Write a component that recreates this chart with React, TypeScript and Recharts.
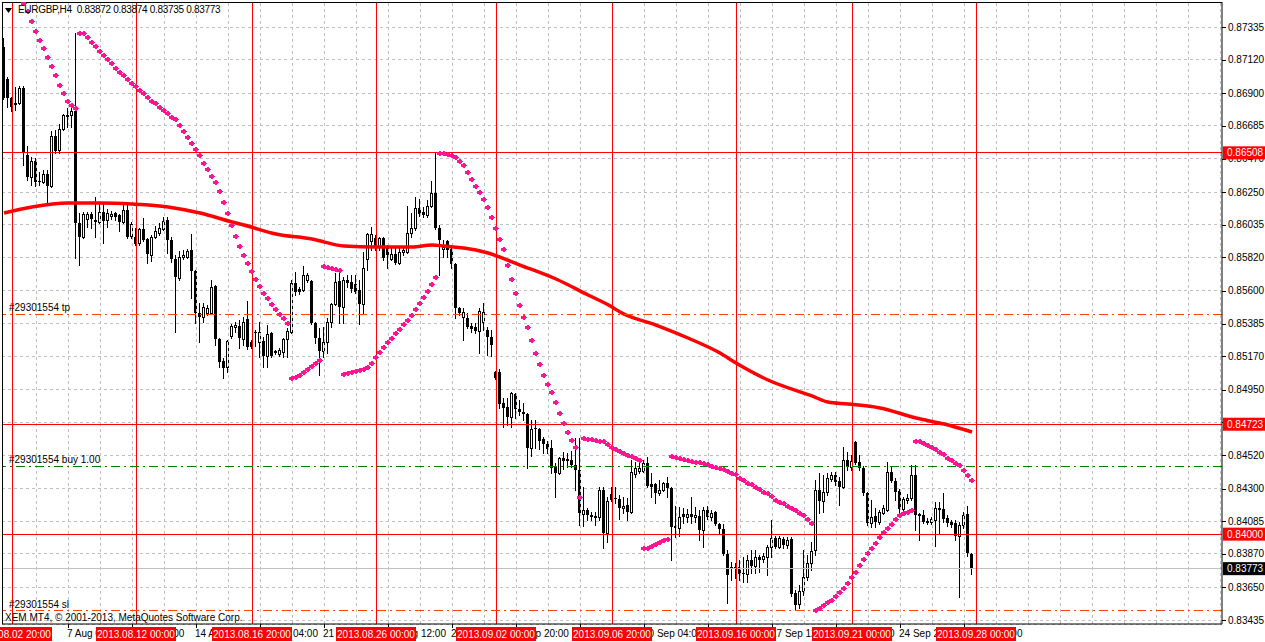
import { ComposedChart, Bar, Line, XAxis, YAxis, CartesianGrid, ReferenceLine } from 'recharts';

// EURGBP H4 candles, prices in points (1 point = 0.00001)
const opens = [
  87204, 86993, 86868, 86829, 86836, 86934, 86494, 86349, 86454, 86323, 86316, 86369, 86290, 86619, 86526, 86665,
  86757, 86757, 86783, 86046, 85954, 86073, 86106, 86066, 86053, 86119, 86066, 86092, 86112, 86099, 86053, 86132,
  85961, 85954, 85915, 86007, 85941, 85836, 85954, 85981, 86007, 86066, 85934, 85810, 85685, 85823, 85823, 85869,
  85731, 85454, 85428, 85454, 85454, 85632, 85283, 85139, 85099, 85303, 85362, 85369, 85283, 85415, 85264, 85329,
  85264, 85270, 85172, 85323, 85205, 85185, 85198, 85283, 85329, 85652, 85612, 85606, 85671, 85665, 85389, 85290,
  85205, 85264, 85395, 85514, 85665, 85494, 85671, 85658, 85645, 85606, 85514, 85810, 85928, 85948, 85895, 85948,
  85889, 85810, 85842, 85783, 85856, 85856, 85981, 86013, 86145, 86119, 86099, 86158, 86244, 86013, 85875, 85928,
  85875, 85777, 85487, 85428, 85421, 85369, 85362, 85336, 85395, 85343, 85297, 85066, 85066, 84862, 84836, 84770,
  84922, 84823, 84803, 84790, 84566, 84698, 84691, 84626, 84593, 84566, 84448, 84402, 84501, 84494, 84488, 84455,
  84422, 84132, 84159, 84126, 84119, 84113, 84290, 84007, 84264, 84238, 84231, 84172, 84192, 84146, 84395, 84415,
  84415, 84468, 84330, 84330, 84271, 84290, 84336, 84303, 84053, 84040, 84132, 84113, 84132, 84113, 84119, 84027,
  84159, 84113, 84146, 84067, 84034, 83869, 83784, 83784, 83784, 83744, 83738, 83830, 83790, 83850, 83836, 83850,
  83915, 83975, 83915, 83968, 83928, 83968, 83613, 83541, 83626, 83718, 83810, 83896, 84290, 84218, 84277, 84363,
  84389, 84349, 84310, 84488, 84441, 84606, 84474, 84435, 84271, 84073, 84119, 84080, 84139, 84159, 84409, 84349,
  84284, 84165, 84224, 84238, 84389, 84132, 84126, 84086, 84080, 84093, 84172, 84165, 84106, 84080, 84073, 83988,
  84060, 84132, 83872,
];
const highs = [
  87263, 87007, 86875, 86941, 86947, 86947, 86553, 86480, 86474, 86382, 86395, 86395, 86651, 86658, 86697, 86763,
  86803, 86809, 87296, 86112, 86119, 86119, 86119, 86217, 86184, 86184, 86138, 86125, 86119, 86106, 86165, 86165,
  86053, 86013, 86013, 86079, 85948, 85967, 86027, 86046, 86086, 86086, 85954, 85836, 85862, 85869, 85875, 85974,
  85737, 85520, 85520, 85507, 85671, 85639, 85290, 85158, 85277, 85382, 85395, 85408, 85428, 85533, 85277, 85343,
  85395, 85297, 85375, 85329, 85211, 85224, 85290, 85356, 85671, 85724, 85625, 85763, 85717, 85671, 85395, 85356,
  85362, 85421, 85520, 85717, 85724, 85691, 85704, 85704, 85704, 85671, 85856, 85981, 86020, 85967, 85954, 85954,
  85902, 85895, 85889, 85889, 85889, 86158, 86112, 86217, 86204, 86152, 86198, 86323, 86507, 86033, 85934, 85934,
  85889, 85783, 85494, 85487, 85454, 85389, 85389, 85487, 85520, 85362, 85343, 85073, 85086, 84895, 84895, 84935,
  84928, 84882, 84862, 84797, 84751, 84751, 84698, 84639, 84612, 84619, 84468, 84507, 84540, 84534, 84547, 84632,
  84632, 84310, 84172, 84146, 84146, 84310, 84310, 84244, 84310, 84310, 84257, 84244, 84238, 84488, 84474, 84488,
  84488, 84507, 84402, 84336, 84356, 84343, 84376, 84310, 84185, 84178, 84172, 84165, 84244, 84178, 84159, 84178,
  84185, 84159, 84152, 84073, 84067, 83896, 83817, 83810, 83830, 83850, 83863, 83896, 83896, 83863, 83876, 83928,
  84093, 83988, 83988, 83981, 83981, 83981, 83633, 83665, 83896, 83863, 83948, 84356, 84402, 84389, 84402, 84409,
  84409, 84376, 84573, 84540, 84520, 84612, 84520, 84448, 84277, 84224, 84172, 84159, 84192, 84474, 84441, 84369,
  84297, 84244, 84264, 84455, 84455, 84139, 84159, 84106, 84113, 84211, 84211, 84271, 84126, 84093, 84093, 84080,
  84146, 84185, 83874,
];
const lows = [
  86862, 86809, 86783, 86790, 86829, 86428, 86329, 86296, 86290, 86296, 86309, 86165, 86283, 86507, 86507, 86658,
  86678, 86678, 85816, 85770, 85948, 86020, 86013, 85954, 86046, 85915, 86020, 86073, 86066, 85994, 86046, 85948,
  85948, 85902, 85902, 85928, 85783, 85796, 85948, 85967, 86000, 85849, 85790, 85329, 85671, 85810, 85816, 85553,
  85389, 85264, 85395, 85441, 85448, 85244, 85099, 85027, 85066, 85290, 85329, 85224, 85244, 85218, 85224, 85237,
  85165, 85099, 85099, 85165, 85185, 85172, 85165, 85165, 85323, 85573, 85579, 85599, 85658, 85382, 85257, 85047,
  85165, 85191, 85362, 85507, 85389, 85389, 85625, 85592, 85586, 85382, 85454, 85737, 85869, 85869, 85869, 85803,
  85750, 85803, 85777, 85777, 85836, 85849, 85954, 86000, 86092, 86086, 86086, 86152, 86007, 85704, 85823, 85823,
  85750, 85421, 85441, 85277, 85356, 85329, 85323, 85191, 85343, 85178, 85172, 85020, 84830, 84705, 84718, 84705,
  84764, 84783, 84751, 84435, 84514, 84566, 84560, 84534, 84534, 84402, 84244, 84395, 84428, 84441, 84441, 84290,
  84060, 84053, 84093, 84093, 84060, 84093, 83909, 83948, 84218, 84205, 84100, 84139, 84093, 84139, 84376, 84402,
  84409, 84310, 84244, 84205, 84257, 84284, 84244, 83830, 83981, 83988, 84073, 84080, 84073, 84080, 83961, 83915,
  84100, 84093, 84060, 84007, 83863, 83547, 83698, 83711, 83698, 83685, 83685, 83744, 83744, 83751, 83817, 83731,
  83850, 83909, 83909, 83909, 83909, 83593, 83501, 83514, 83600, 83698, 83764, 83863, 84139, 84146, 84257, 84349,
  84323, 84192, 84303, 84422, 84422, 84461, 84422, 84257, 84060, 84047, 84047, 84067, 84132, 84152, 84343, 84224,
  84126, 84146, 84205, 84224, 84027, 83961, 84073, 84067, 84067, 83922, 84007, 84080, 84053, 84047, 83961, 83587,
  84040, 83856, 83735,
];
const closes = [
  86868, 86868, 86809, 86836, 86934, 86507, 86349, 86454, 86316, 86316, 86369, 86290, 86619, 86520, 86665, 86757,
  86743, 86783, 86046, 85954, 86106, 86106, 86073, 86053, 86119, 86060, 86112, 86106, 86086, 86053, 86132, 85954,
  86040, 85908, 86007, 85934, 85842, 85954, 85994, 86013, 86060, 85934, 85810, 85691, 85823, 85836, 85862, 85731,
  85454, 85428, 85494, 85487, 85625, 85283, 85132, 85093, 85270, 85369, 85375, 85290, 85395, 85231, 85231, 85323,
  85329, 85172, 85316, 85172, 85191, 85211, 85283, 85336, 85652, 85592, 85592, 85704, 85704, 85389, 85290, 85205,
  85264, 85395, 85514, 85658, 85494, 85671, 85652, 85612, 85592, 85514, 85750, 85974, 85974, 85895, 85948, 85816,
  85836, 85842, 85783, 85856, 85869, 85981, 86013, 86145, 86106, 86099, 86158, 86244, 86013, 85934, 85889, 85869,
  85777, 85487, 85454, 85461, 85362, 85349, 85336, 85468, 85461, 85297, 85244, 85027, 84856, 84830, 84770, 84928,
  84823, 84803, 84790, 84566, 84691, 84691, 84612, 84593, 84560, 84435, 84402, 84501, 84481, 84481, 84455, 84422,
  84139, 84159, 84126, 84113, 84106, 84290, 84007, 84218, 84224, 84231, 84172, 84185, 84146, 84409, 84435, 84435,
  84468, 84317, 84310, 84271, 84290, 84336, 84303, 84047, 84040, 84113, 84113, 84132, 84113, 84126, 84027, 84159,
  84113, 84139, 84067, 84034, 83869, 83731, 83777, 83771, 83738, 83738, 83830, 83790, 83850, 83830, 83856, 83915,
  83975, 83915, 83975, 83928, 83961, 83606, 83534, 83626, 83718, 83810, 83889, 84290, 84218, 84277, 84369, 84389,
  84343, 84310, 84488, 84441, 84481, 84468, 84435, 84271, 84073, 84113, 84080, 84146, 84172, 84409, 84349, 84277,
  84165, 84231, 84238, 84389, 84126, 84119, 84080, 84073, 84100, 84172, 84159, 84100, 84073, 84060, 83988, 84060,
  84126, 83875, 83773,
];

// Parabolic SAR dots, points (null = above the visible area)
const sarPoints = [
  null, null, null, null, null, 87493, 87441, 87378, 87312, 87253, 87197, 87141, 87079, 87020, 86957, 86901,
  86849, 86822, 86803, 87294, 87294, 87268, 87235, 87210, 87178, 87151, 87125, 87097, 87068, 87041, 87018, 86991,
  86965, 86947, 86921, 86899, 86873, 86851, 86834, 86811, 86790, 86768, 86745, 86728, 86689, 86653, 86610, 86571,
  86531, 86494, 86443, 86400, 86355, 86314, 86257, 86186, 86110, 86033, 85963, 85897, 85836, 85781, 85731, 85676,
  85632, 85588, 85551, 85512, 85479, 85448, 85419, 85391, 85025, 85031, 85047, 85064, 85084, 85106, 85127, 85145,
  85763, 85755, 85750, 85744, 85737, 85051, 85058, 85064, 85073, 85079, 85084, 85101, 85127, 85163, 85200, 85233,
  85262, 85292, 85321, 85351, 85382, 85408, 85441, 85479, 85518, 85562, 85601, 85643, 85689, 86505, 86505, 86500,
  86494, 86482, 86456, 86428, 86380, 86334, 86292, 86252, 86202, 86150, 86088, 86013, 85941, 85873, 85768, 85676,
  85584, 85505, 85430, 85364, 85277, 85189, 85117, 85045, 84985, 84933, 84872, 84795, 84729, 84670, 84616, 84576,
  84242, 84630, 84629, 84624, 84619, 84613, 84611, 84590, 84573, 84562, 84547, 84534, 84522, 84512, 84501, 84490,
  83907, 83907, 83922, 83935, 83950, 83961, 83968, 84514, 84509, 84503, 84494, 84488, 84483, 84476, 84473, 84466,
  84459, 84450, 84443, 84437, 84426, 84418, 84404, 84393, 84367, 84356, 84338, 84328, 84312, 84295, 84279, 84269,
  84251, 84224, 84213, 84203, 84185, 84174, 84159, 84141, 84126, 84098, 84071, 83501, 83512, 83534, 83556, 83570,
  83593, 83619, 83649, 83677, 83715, 83749, 83795, 83835, 83874, 83909, 83945, 83979, 84012, 84038, 84068, 84098,
  84124, 84142, 84148, 84157, 84613, 84613, 84597, 84586, 84575, 84560, 84540, 84524, 84504, 84488, 84471, 84455,
  84422, 84389, 84356,
];

// moving average, read at these bars (points)
const maBars = [0, 7, 16, 24, 32, 41, 49, 57, 60, 68, 77, 85, 93, 102, 107, 110, 118, 121, 129, 138, 146, 152, 154, 163, 171, 179, 183, 191, 202, 206, 211, 219, 228, 235, 242];
const maPoints = [86112, 86152, 86178, 86178, 86171, 86152, 86112, 86053, 86033, 85974, 85941, 85895, 85889, 85889, 85902, 85895, 85869, 85849, 85770, 85678, 85573, 85494, 85461, 85375, 85290, 85191, 85126, 85014, 84909, 84869, 84856, 84830, 84764, 84724, 84672];

const slotCount = 305; // bars plus the empty shift on the right

const timeTickBars = [16, 32, 48, 64, 80, 96, 112, 128, 144, 160, 176, 192, 208, 224, 240];
const timeTickLabels = ['7 Aug 04:00', '9 Aug 20:00', '14 Aug 12:00', '19 Aug 04:00', '21 Aug 20:00', '26 Aug 12:00', '29 Aug 04:00', '2 Sep 20:00', '5 Sep 12:00', '10 Sep 04:00', '12 Sep 20:00', '17 Sep 12:00', '20 Sep 04:00', '24 Sep 20:00', '27 Sep 12:00'];
const vLineBars = [2, 33, 62, 93, 123, 152, 183, 212, 243];
const vLineLabels = ['2013.08.02 20:00', '2013.08.12 00:00', '2013.08.16 20:00', '2013.08.26 00:00', '2013.09.02 00:00', '2013.09.06 20:00', '2013.09.16 00:00', '2013.09.21 00:00', '2013.09.28 00:00'];
const gridBars = Array.from({ length: 38 }, (_, k) => (k + 1) * 8);

const priceTicks = [0.87335, 0.8712, 0.869, 0.86685, 0.8647, 0.8625, 0.86035, 0.8582, 0.856, 0.85385, 0.8517, 0.8495, 0.84735, 0.8452, 0.843, 0.84085, 0.8387, 0.8365, 0.83435];
const levelPrices = [0.86508, 0.84723, 0.84];
const bidPrice = 0.83773;
const orderNames = ['#29301554 tp', '#29301554 buy 1.00', '#29301554 sl'];
const orderPrices = [0.85446, 0.84448, 0.83495];

const FONT = '"Liberation Sans", Arial, sans-serif';
const ORDER_COLORS = ['#ff4500', '#008000', '#ff4500'];

const rows = Array.from({ length: slotCount }, (_, i) => {
  const row: any = { i };
  if (i < opens.length) {
    row.o = opens[i] / 1e5;
    row.h = highs[i] / 1e5;
    row.l = lows[i] / 1e5;
    row.c = closes[i] / 1e5;
    row.range = [row.l, row.h];
  }
  if (i < sarPoints.length && sarPoints[i] != null) row.sar = (sarPoints[i] as number) / 1e5;
  return row;
});
maBars.forEach((b, k) => {
  rows[b].ma = maPoints[k] / 1e5;
});

function Candle(props: any) {
  const { x, y, width, height, payload } = props;
  if (!payload || payload.o == null || y == null || height == null) return null;
  const { o, h, l, c } = payload;
  const cx = Math.floor(x + width / 2);
  const k = h > l ? height / (h - l) : 0;
  const py = (v: number) => y + (h - v) * k;
  const top = Math.round(py(Math.max(o, c)));
  const bot = Math.round(py(Math.min(o, c)));
  const up = c > o;
  return (
    <g shapeRendering="crispEdges">
      <line x1={cx + 0.5} x2={cx + 0.5} y1={Math.round(y)} y2={Math.round(y + height) + 1} stroke="#000" />
      {up ? (
        <rect x={cx - 0.5} y={top + 0.5} width={2} height={Math.max(bot - top, 1)} fill="#fff" stroke="#000" />
      ) : (
        <rect x={cx - 1} y={top} width={3} height={Math.max(bot - top, 1)} fill="#000" />
      )}
    </g>
  );
}

function SarDot(props: any) {
  const { cx, cy, payload } = props;
  if (!payload || payload.sar == null || cx == null || cy == null) return null;
  const x = Math.round(cx);
  const y = Math.round(cy);
  return (
    <g fill="#ff1493" shapeRendering="crispEdges">
      <rect x={x - 3} y={y - 1} width={5} height={3} />
      <rect x={x - 1} y={y - 2} width={2} height={5} />
      <rect x={x + 2} y={y} width={1} height={1} />
    </g>
  );
}

function TimeTick(props: any) {
  const { x, y, payload } = props;
  const v = payload.value;
  const vi = vLineBars.indexOf(v);
  if (vi >= 0) {
    return (
      <g>
        <rect x={x - 40} y={y + 3} width={80} height={14} fill="#ff0000" />
        <text x={x} y={y + 14} textAnchor="middle" fontSize={10} fontFamily={FONT} fill="#fff">
          {vLineLabels[vi]}
        </text>
      </g>
    );
  }
  const ti = timeTickBars.indexOf(v);
  return (
    <g>
      <line x1={x + 0.5} x2={x + 0.5} y1={y} y2={y + 4} stroke="#000" />
      <text x={x - 1} y={y + 13} fontSize={10} fontFamily={FONT} fill="#000">
        {timeTickLabels[ti]}
      </text>
    </g>
  );
}

function PriceTick(props: any) {
  const { x, y, payload } = props;
  const v = payload.value;
  const label = v.toFixed(5);
  if (levelPrices.includes(v) || v === bidPrice) {
    return (
      <g>
        <rect x={x + 1} y={y - 6.5} width={43} height={13} fill={v === bidPrice ? '#000' : '#ff0000'} />
        <text x={x + 5} y={y + 3.5} fontSize={10} fontFamily={FONT} fill="#fff">
          {label}
        </text>
      </g>
    );
  }
  return (
    <g>
      <line x1={x} x2={x + 4} y1={Math.round(y) + 0.5} y2={Math.round(y) + 0.5} stroke="#000" />
      <text x={x + 6} y={y + 3.5} fontSize={10} fontFamily={FONT} fill="#000">
        {label}
      </text>
    </g>
  );
}

function OrderLabel(props: any) {
  const { viewBox, text } = props;
  if (!viewBox) return null;
  return (
    <text x={viewBox.x + 7} y={viewBox.y - 3} fontSize={10} fontFamily={FONT} fill="#000">
      {text}
    </text>
  );
}

export default function App() {
  return (
    <div style={{ position: 'absolute', left: 0, top: 0, width: 1265, height: 642, background: '#fff', overflow: 'hidden' }}>
      <ComposedChart
        width={1265}
        height={642}
        data={rows}
        margin={{ top: 2, right: 0, bottom: 0, left: 2 }}
        barCategoryGap="10%"
      >
        <CartesianGrid vertical={false} stroke="#c0c0c0" strokeDasharray="3 3" shapeRendering="crispEdges" />
        {gridBars.map((b) => (
          <ReferenceLine key={'g' + b} x={b} stroke="#c0c0c0" strokeDasharray="3 3" shapeRendering="crispEdges" />
        ))}
        <ReferenceLine y={bidPrice} stroke="#c0c0c0" shapeRendering="crispEdges" />
        <XAxis
          dataKey="i"
          type="category"
          ticks={[...timeTickBars, ...vLineBars]}
          interval={0}
          tick={<TimeTick />}
          tickLine={false}
          tickSize={0}
          tickMargin={0}
          axisLine={{ stroke: '#000' }}
          height={18}
        />
        <YAxis
          orientation="right"
          type="number"
          domain={[0.83409, 0.875]}
          allowDataOverflow
          ticks={[...priceTicks, ...levelPrices, bidPrice]}
          interval={0}
          tick={<PriceTick />}
          tickLine={false}
          tickSize={0}
          tickMargin={0}
          axisLine={{ stroke: '#000' }}
          width={43}
        />
        <Bar dataKey="range" shape={<Candle />} isAnimationActive={false} />
        <Line dataKey="ma" type="monotone" stroke="#ff0000" strokeWidth={3.5} dot={false} activeDot={false} connectNulls isAnimationActive={false} />
        <Line dataKey="sar" stroke="none" dot={<SarDot />} activeDot={false} isAnimationActive={false} />
        {vLineBars.map((b) => (
          <ReferenceLine key={'v' + b} x={b} stroke="#ff0000" shapeRendering="crispEdges" />
        ))}
        {levelPrices.map((p) => (
          <ReferenceLine key={'h' + p} y={p} stroke="#ff0000" shapeRendering="crispEdges" />
        ))}
        {orderPrices.map((p, k) => (
          <ReferenceLine
            key={'o' + k}
            y={p}
            stroke={ORDER_COLORS[k]}
            strokeDasharray="9 4 2 4"
            shapeRendering="crispEdges"
            label={<OrderLabel text={orderNames[k]} />}
          />
        ))}
        <ReferenceLine y={0.875} stroke="#000" shapeRendering="crispEdges" />
        <ReferenceLine x={0} position="start" stroke="#000" shapeRendering="crispEdges" />
      </ComposedChart>
      <svg style={{ position: 'absolute', left: 5, top: 8 }} width={8} height={6}>
        <polygon points="0,0 7,0 3.5,5" fill="#000" />
      </svg>
      <div style={{ position: 'absolute', left: 18, top: 4, fontFamily: FONT, fontSize: 10, letterSpacing: -0.3, whiteSpace: 'pre', color: '#000' }}>
        EURGBP,H4  0.83872 0.83874 0.83735 0.83773
      </div>
      <div style={{ position: 'absolute', left: 5, top: 612, fontFamily: FONT, fontSize: 10, whiteSpace: 'pre', color: '#000' }}>
        XEM MT4, © 2001-2013, MetaQuotes Software Corp.
      </div>
    </div>
  );
}
